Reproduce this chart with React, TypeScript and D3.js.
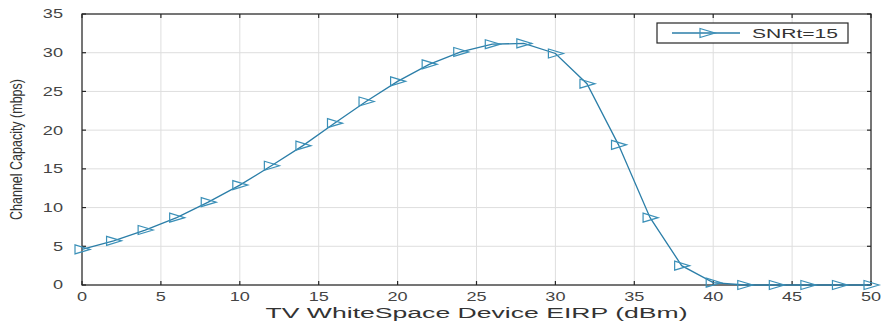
import React from "react";
import * as d3 from "d3";

// EIRP sweep (dBm) and resulting channel capacity (mbps) for SNRt = 15
const eirp = [0, 2, 4, 6, 8, 10, 12, 14, 16, 18, 20, 22, 24, 26, 28, 30, 32, 34, 36, 38, 40, 42, 44, 46, 48, 50];
const capacity = [4.6, 5.7, 7.1, 8.7, 10.7, 12.9, 15.4, 18.0, 20.9, 23.7, 26.3, 28.5, 30.1, 31.1, 31.2, 29.9, 26.0, 18.1, 8.7, 2.5, 0.3, 0, 0, 0, 0, 0];
const xTicks = [0, 5, 10, 15, 20, 25, 30, 35, 40, 45, 50];
const yTicks = [0, 5, 10, 15, 20, 25, 30, 35];
const seriesName = "SNRt=15";

const W = 894;
const H = 325;
const M = { left: 82, right: 871, top: 14, bottom: 285 };

const FONT = "'Liberation Sans', Arial, sans-serif";
const AXIS = "#262626";
const LABEL = "#444";
const GRID = "#dedede";
const LINE = "#2b7ea8";
const MARK = "#3b90b8";

function Marker({ x, y }: { x: number; y: number }) {
  return (
    <path
      d={`M${x - 7},${y - 4.5} L${x - 7},${y + 4.5} L${x + 8},${y} Z`}
      fill="none"
      stroke={MARK}
      strokeWidth={1.2}
    />
  );
}

export default function App() {
  const x = d3.scaleLinear().domain([0, 50]).range([M.left, M.right]);
  const y = d3.scaleLinear().domain([0, 35]).range([M.bottom, M.top]);
  const pts = eirp.map((e, i) => [e, capacity[i]] as [number, number]);
  const line = d3
    .line<[number, number]>()
    .x((d) => x(d[0]))
    .y((d) => y(d[1]));

  const tl = 4;

  return (
    <svg
      width={W}
      height={H}
      style={{ position: "absolute", left: 0, top: 0, background: "#fff" }}
      fontFamily={FONT}
    >
      <rect x={0} y={0} width={W} height={H} fill="#fff" />
      {/* grid */}
      {xTicks.map((t) => (
        <line key={"gx" + t} x1={x(t)} x2={x(t)} y1={M.top} y2={M.bottom} stroke={GRID} strokeWidth={1} />
      ))}
      {yTicks.map((t) => (
        <line key={"gy" + t} x1={M.left} x2={M.right} y1={y(t)} y2={y(t)} stroke={GRID} strokeWidth={1} />
      ))}

      {/* box and inward ticks */}
      <rect
        x={M.left}
        y={M.top}
        width={M.right - M.left}
        height={M.bottom - M.top}
        fill="none"
        stroke={AXIS}
        strokeWidth={1.2}
      />
      {xTicks.map((t) => (
        <g key={"tx" + t} stroke={AXIS} strokeWidth={1.2}>
          <line x1={x(t)} x2={x(t)} y1={M.bottom} y2={M.bottom - tl} />
          <line x1={x(t)} x2={x(t)} y1={M.top} y2={M.top + tl} />
        </g>
      ))}
      {yTicks.map((t) => (
        <g key={"ty" + t} stroke={AXIS} strokeWidth={1.2}>
          <line x1={M.left} x2={M.left + tl} y1={y(t)} y2={y(t)} />
          <line x1={M.right} x2={M.right - tl} y1={y(t)} y2={y(t)} />
        </g>
      ))}

      {/* tick labels */}
      {xTicks.map((t) => (
        <text
          key={"lx" + t}
          transform={`translate(${x(t)},301) scale(1.45,1)`}
          textAnchor="middle"
          fontSize={12.5}
          fill={LABEL}
        >
          {t}
        </text>
      ))}
      {yTicks.map((t) => (
        <text
          key={"ly" + t}
          transform={`translate(${M.left - 19},${y(t)}) scale(1.45,1)`}
          textAnchor="end"
          dominantBaseline="central"
          fontSize={12.5}
          fill={LABEL}
        >
          {t}
        </text>
      ))}

      {/* axis titles */}
      <text
        x={(M.left + M.right) / 2}
        y={318}
        textAnchor="middle"
        fontSize={14}
        fill="#333"
        textLength={422}
        lengthAdjust="spacingAndGlyphs"
      >
        TV WhiteSpace Device EIRP (dBm)
      </text>
      <text
        transform={`translate(22,${(M.top + M.bottom) / 2}) rotate(-90) scale(1,1.35)`}
        textAnchor="middle"
        fontSize={12.5}
        fill="#333"
      >
        Channel Capacity (mbps)
      </text>

      {/* series */}
      <path d={line(pts) || ""} fill="none" stroke={LINE} strokeWidth={1.3} />
      {pts.map((p, i) => (
        <Marker key={i} x={x(p[0])} y={y(p[1])} />
      ))}

      {/* legend */}
      <rect x={657} y={23} width={191} height={20} fill="#fff" stroke={AXIS} strokeWidth={1.2} />
      <line x1={672} x2={740} y1={33} y2={33} stroke={LINE} strokeWidth={1.3} />
      <Marker x={707} y={33} />
      <text
        x={752}
        y={37.5}
        fontSize={12.5}
        fill="#333"
        textLength={86}
        lengthAdjust="spacingAndGlyphs"
      >
        {seriesName}
      </text>
    </svg>
  );
}
